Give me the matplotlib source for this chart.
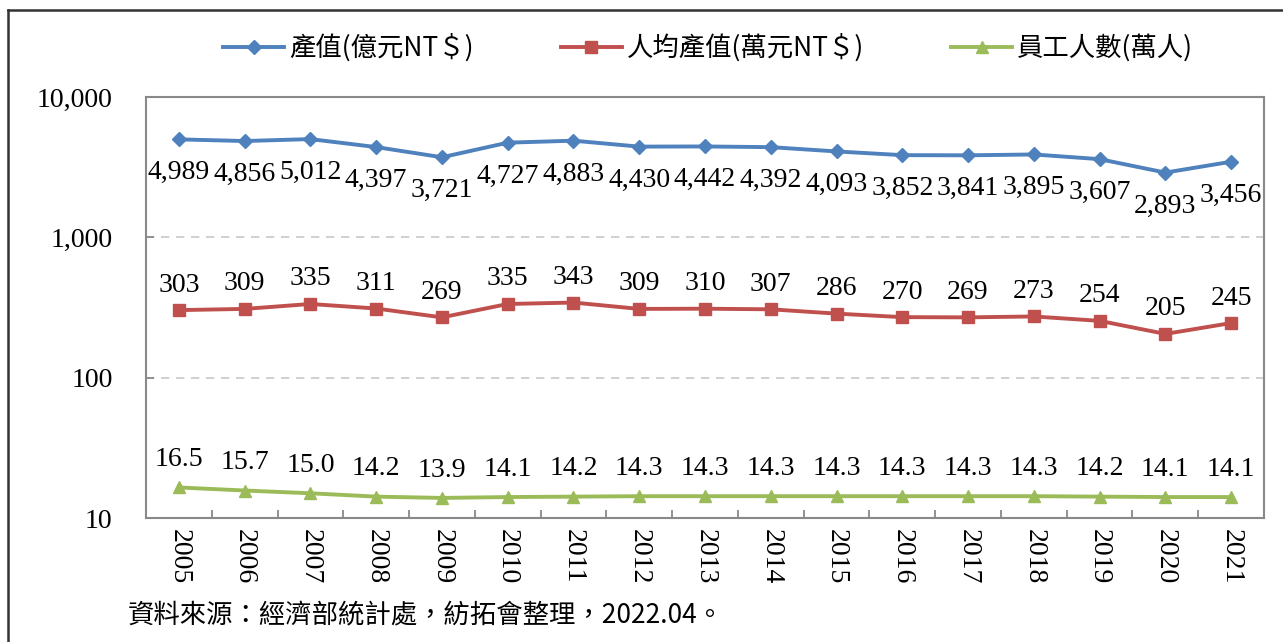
import matplotlib
matplotlib.use("Agg")
import matplotlib.pyplot as plt
from matplotlib.lines import Line2D
from matplotlib.ticker import FixedLocator, FuncFormatter, NullLocator

# 資料
years = ['2005', '2006', '2007', '2008', '2009', '2010', '2011', '2012', '2013',
         '2014', '2015', '2016', '2017', '2018', '2019', '2020', '2021']
output_value = [4989, 4856, 5012, 4397, 3721, 4727, 4883, 4430, 4442,
                4392, 4093, 3852, 3841, 3895, 3607, 2893, 3456]
per_capita = [303, 309, 335, 311, 269, 335, 343, 309, 310,
              307, 286, 270, 269, 273, 254, 205, 245]
employees = [16.5, 15.7, 15.0, 14.2, 13.9, 14.1, 14.2, 14.3, 14.3,
             14.3, 14.3, 14.3, 14.3, 14.3, 14.2, 14.1, 14.1]
series_names = ['產值(億元NT＄)', '人均產值(萬元NT＄)', '員工人數(萬人)']
source_text = '資料來源：經濟部統計處，紡拓會整理，2022.04。'

serif = ['Liberation Serif', 'DejaVu Serif']
cjk = ['Noto Sans CJK TC', 'Liberation Serif']

fig = plt.figure(figsize=(12.83, 6.42), dpi=100)
ax = fig.add_axes([146/1283, 1-518/642, (1264-146)/1283, (518-97)/642])

x = list(range(len(years)))
blue, red, green = '#4F81BD', '#C0504D', '#9BBB59'

ax.plot(x, output_value, color=blue, lw=2.8, marker='D', ms=7, label=series_names[0])
ax.plot(x, per_capita, color=red, lw=2.8, marker='s', ms=8, label=series_names[1])
ax.plot(x, employees, color=green, lw=2.8, marker='^', ms=9, label=series_names[2])

for i in x:
    ax.annotate(f'{output_value[i]:,}', (i, output_value[i]), xytext=(0, -24),
                textcoords='offset points', ha='center', va='center',
                fontsize=20, family=serif)
    ax.annotate(f'{per_capita[i]}', (i, per_capita[i]), xytext=(0, 18),
                textcoords='offset points', ha='center', va='center',
                fontsize=20, family=serif)
    ax.annotate(f'{employees[i]:.1f}', (i, employees[i]), xytext=(0, 20),
                textcoords='offset points', ha='center', va='center',
                fontsize=20, family=serif)

ax.set_yscale('log')
ax.set_ylim(10, 10000)
ax.set_xlim(-0.5, len(years) - 0.5)
ax.yaxis.set_major_locator(FixedLocator([10, 100, 1000, 10000]))
ax.yaxis.set_minor_locator(NullLocator())
ax.yaxis.set_major_formatter(FuncFormatter(lambda v, p: f'{int(v):,}'))
for v in [100, 1000]:
    ax.axhline(v, color='#C8C8C8', lw=1.2, ls=(0, (5, 4)), zorder=0)

ax.set_xticks(x)
ax.set_xticklabels(years, rotation=270, family=serif, fontsize=20)
ax.xaxis.set_minor_locator(FixedLocator([i + 0.5 for i in x[:-1]]))
ax.tick_params(axis='x', which='major', length=0, pad=8)
ax.tick_params(axis='x', which='minor', direction='in', length=6, color='#898989', width=1.3)
ax.tick_params(axis='y', which='major', direction='in', length=6, color='#898989',
               width=1.3, pad=24, labelsize=20)
for lab in ax.get_yticklabels():
    lab.set_family(serif)

for s in ax.spines.values():
    s.set_color('#898989')
    s.set_linewidth(1.5)

leg = fig.legend(loc='center', bbox_to_anchor=(0.552, 1-48/642), ncol=3,
                 frameon=False, prop={'family': cjk, 'size': 19},
                 handlelength=2.3, columnspacing=3.3, handletextpad=0.2)

fig.text(128/1283, 1-615/642, source_text, family=cjk, fontsize=19, va='center')

# 外框
fig.add_artist(Line2D([8/1283, 1.0], [1-10/642, 1-10/642], color='#333333', lw=1.8,
                      transform=fig.transFigure))
fig.add_artist(Line2D([8/1283, 8/1283], [0.0, 1-10/642], color='#333333', lw=1.8,
                      transform=fig.transFigure))

fig.savefig('out.png', dpi=100)
